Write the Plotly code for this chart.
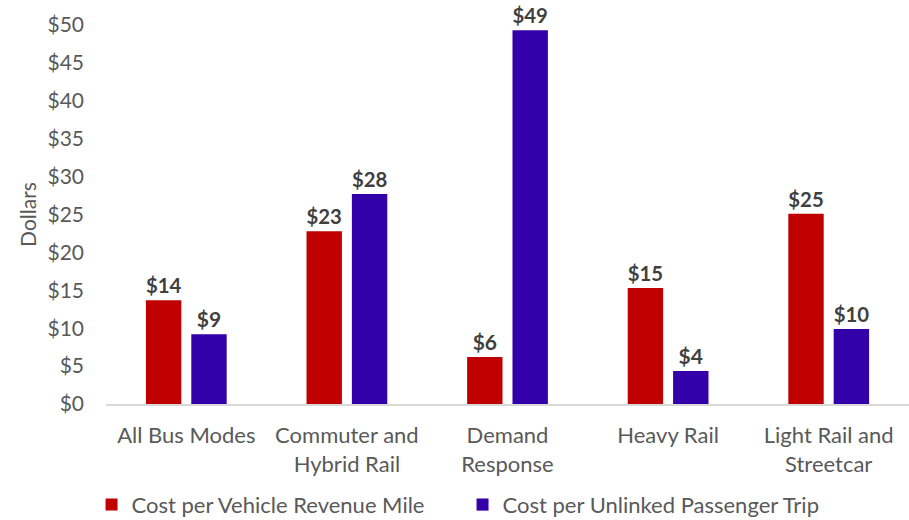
import plotly.graph_objects as go

categories = ["All Bus Modes", "Commuter and<br>Hybrid Rail", "Demand<br>Response", "Heavy Rail", "Light Rail and<br>Streetcar"]
series_names = ["Cost per Vehicle Revenue Mile", "Cost per Unlinked Passenger Trip"]
vehicle_mile = [13.7, 22.8, 6.2, 15.3, 25.1]
passenger_trip = [9.2, 27.7, 49.3, 4.35, 9.9]
y_ticks = [0, 5, 10, 15, 20, 25, 30, 35, 40, 45, 50]
y_tick_labels = ["$" + str(v) for v in y_ticks]

FONT = "Lato, Calibri, Carlito, sans-serif"
colors = ["#C00000", "#3300AA"]

fig = go.Figure()
for name, vals, c in zip(series_names, [vehicle_mile, passenger_trip], colors):
    fig.add_trace(go.Bar(
        x=categories, y=vals, name=name,
        marker=dict(color=c, line=dict(width=0)),
        texttemplate="$%{y:.0f}", textposition="outside",
        textfont=dict(family=FONT, size=21, color="#404040", weight="bold"),
        cliponaxis=False,
    ))

fig.update_layout(
    width=909, height=520,
    paper_bgcolor="white", plot_bgcolor="white",
    margin=dict(l=106, r=0, t=25, b=116, autoexpand=False),
    barmode="group", bargap=0.435, bargroupgap=0.22,
    font=dict(family=FONT, size=20, color="#595959"),
    showlegend=True,
    legend=dict(orientation="h", x=-0.018, xanchor="left", y=-0.266, yanchor="middle",
                entrywidth=326, entrywidthmode="pixels",
                font=dict(family=FONT, size=22, color="#595959"),
                itemwidth=30, traceorder="normal"),
    xaxis=dict(showgrid=False, showline=True, linecolor="#d9d9d9", linewidth=1.5,
               automargin=False,
               ticks="", tickfont=dict(size=22, color="#595959"), ticklabelstandoff=11),
    yaxis=dict(range=[0, 50], tickvals=y_ticks, ticktext=y_tick_labels,
               automargin=False,
               showgrid=False, zeroline=False, showline=False, ticks="",
               ticklabelstandoff=21,
               tickfont=dict(size=21, color="#595959"),
               title=dict(text="Dollars", font=dict(size=21, color="#595959"), standoff=5)),
)

fig.write_html("out.html", config={"displayModeBar": False},
               post_script="document.body.style.margin='0';document.body.style.padding='0';")
